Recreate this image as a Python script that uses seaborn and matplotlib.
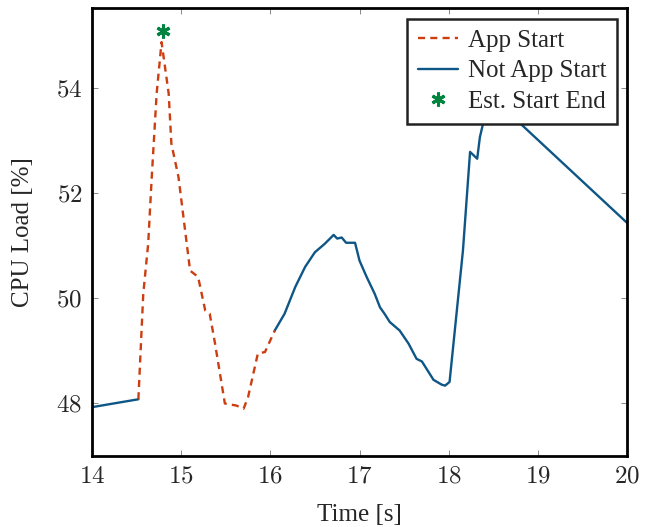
import numpy as np
import pandas as pd
import matplotlib
matplotlib.use("Agg")
import matplotlib.pyplot as plt
import seaborn as sns
from matplotlib.lines import Line2D
from matplotlib.ticker import FuncFormatter, FixedLocator

# ---- data ----
app_x = [14.52, 14.575, 14.63, 14.67, 14.725, 14.78, 14.86, 14.89, 14.93, 14.97,
         15.10, 15.19, 15.27, 15.32, 15.38, 15.49, 15.62, 15.70, 15.75, 15.86,
         15.94, 16.05]
app_y = [48.08, 50.09, 51.04, 52.31, 53.90, 54.88, 53.90, 52.95, 52.63, 52.31,
         50.53, 50.41, 49.77, 49.71, 49.14, 48.00, 47.96, 47.90, 48.12, 48.95,
         48.98, 49.39]

not1_x = [14.0, 14.52]
not1_y = [47.93, 48.08]

not2_x = [16.05, 16.16, 16.28, 16.39, 16.50, 16.61, 16.71, 16.75, 16.80, 16.85,
          16.95, 17.00, 17.08, 17.17, 17.23, 17.28, 17.34, 17.45, 17.55, 17.64,
          17.70, 17.83, 17.92, 17.96, 18.01, 18.16, 18.24, 18.32, 18.35, 18.39,
          18.45, 18.62, 20.0]
not2_y = [49.39, 49.71, 50.22, 50.60, 50.88, 51.04, 51.21, 51.14, 51.16, 51.06,
          51.06, 50.72, 50.41, 50.09, 49.83, 49.71, 49.55, 49.39, 49.14, 48.85,
          48.80, 48.45, 48.36, 48.34, 48.41, 50.91, 52.79, 52.66, 53.07, 53.36,
          53.70, 53.62, 51.44]

est_x = [14.80]
est_y = [55.09]

x_ticks = [14, 15, 16, 17, 18, 19, 20]
y_ticks = [48, 50, 52, 54]

labels = ["App Start", "Not App Start", "Est. Start End"]

# ---- style ----
sns.set_theme(style="white")
plt.rcParams["font.family"] = ["Liberation Serif", "DejaVu Serif"]
plt.rcParams["mathtext.fontset"] = "cm"

ORANGE = "#cc3d10"
BLUE = "#0e5686"
GREEN = "#00843f"
FS = 18

fig = plt.figure(figsize=(6.54, 5.27), dpi=100)
ax = fig.add_subplot(111)
fig.subplots_adjust(left=92/654, right=627/654, bottom=(527-456)/527, top=(527-8)/527)

df_app = pd.DataFrame({"x": app_x, "y": app_y})
df_n1 = pd.DataFrame({"x": not1_x, "y": not1_y})
df_n2 = pd.DataFrame({"x": not2_x, "y": not2_y})

sns.lineplot(data=df_n1, x="x", y="y", ax=ax, color=BLUE, lw=1.7, estimator=None, sort=False)
sns.lineplot(data=df_n2, x="x", y="y", ax=ax, color=BLUE, lw=1.7, estimator=None, sort=False)
sns.lineplot(data=df_app, x="x", y="y", ax=ax, color=ORANGE, lw=1.7, estimator=None,
             sort=False, linestyle=(0, (3, 2.2)))
ax.plot(est_x, est_y, linestyle="none", marker=(6, 2, 0), markersize=10,
        markeredgewidth=2.2, color=GREEN, clip_on=False)

ax.set_xlim(14, 20)
ax.set_ylim(47.0, 55.53)
ax.xaxis.set_major_locator(FixedLocator(x_ticks))
ax.yaxis.set_major_locator(FixedLocator(y_ticks))
fmt = FuncFormatter(lambda v, p: f"${v:g}$")
ax.xaxis.set_major_formatter(fmt)
ax.yaxis.set_major_formatter(fmt)
ax.tick_params(direction="in", length=4.5, width=0.6, color="#777777",
               labelsize=FS, top=True, right=True, bottom=True, left=True, pad=7)
for s in ax.spines.values():
    s.set_color("black")
    s.set_linewidth(2.0)

ax.set_xlabel("Time [s]", fontsize=FS, labelpad=12)
ax.set_ylabel("CPU Load [%]", fontsize=FS, labelpad=16)

handles = [
    Line2D([], [], color=ORANGE, lw=1.7, linestyle=(0, (3, 2.2))),
    Line2D([], [], color=BLUE, lw=1.7),
    Line2D([], [], color=GREEN, linestyle="none", marker=(6, 2, 0), markersize=10,
           markeredgewidth=2.2),
]
leg = ax.legend(handles, labels, loc="upper right", fontsize=FS, frameon=True,
                fancybox=False, framealpha=1, edgecolor="#222222",
                handlelength=1.6, handletextpad=0.4, labelspacing=0.33,
                borderpad=0.42, borderaxespad=0.42)
leg.get_frame().set_linewidth(1.8)
leg.set_zorder(10)

fig.savefig("out.png", dpi=100)
